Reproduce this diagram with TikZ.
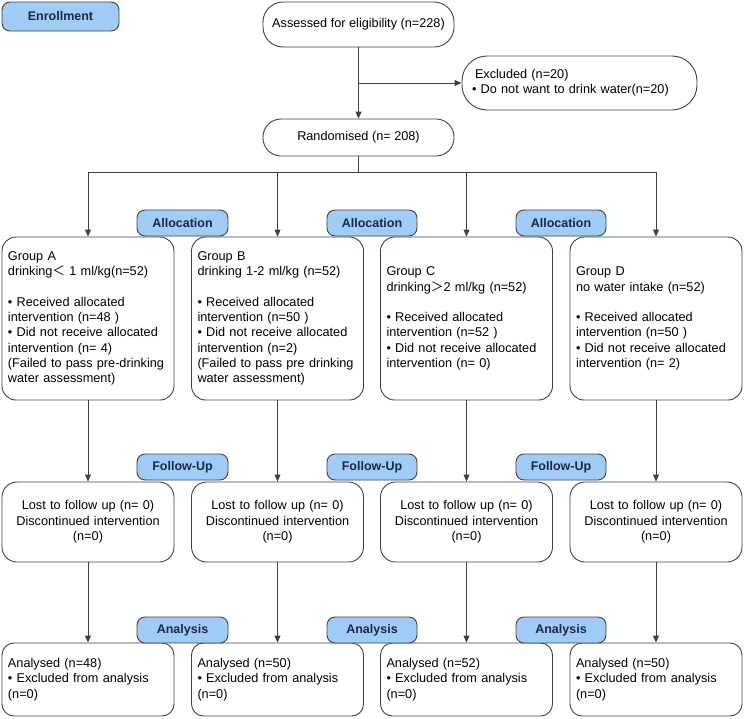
\documentclass[tikz,border=0pt]{standalone}
\usepackage{fontspec}
\setmainfont{Liberation Sans}
\newfontfamily\cjk{Noto Sans CJK SC}
\usetikzlibrary{arrows.meta}
\definecolor{lblue}{HTML}{A0CCF8}
\definecolor{navy}{HTML}{1B2845}
\begin{document}
\begin{tikzpicture}[x=1pt,y=-1pt,
  base/.style={draw=black!75, line width=0.9pt, inner ysep=0pt,
    font=\fontsize{12.7}{15.3}\selectfont},
  pill/.style={base, align=center, inner xsep=0pt},
  grp/.style={base, rounded corners=14pt, inner xsep=6pt, text width=160pt,
    minimum height=163pt, align=left},
  fup/.style={base, rounded corners=15pt, inner xsep=6pt, text width=160pt,
    minimum height=80pt, align=center},
  ana/.style={base, rounded corners=12pt, inner xsep=6pt, text width=160pt,
    minimum height=73pt, align=left},
  lbl/.style={draw=black!75, line width=0.9pt, fill=lblue, rounded corners=8pt,
    minimum width=90pt, minimum height=26pt, inner sep=0pt, text=navy,
    font=\fontsize{12.5}{14}\selectfont\bfseries},
  arr/.style={draw=black!75, line width=0.9pt, -{Triangle[length=7pt,width=6pt]}},
  ln/.style={draw=black!75, line width=0.9pt}
]
\useasboundingbox (0,0) rectangle (744,718);

% top
\node[lbl, minimum width=117pt, minimum height=29pt] (enroll) at (60.5,16.5) {Enrollment};
\node[pill, rounded corners=20pt, minimum width=191pt, minimum height=45pt] (assess) at (358.5,24.5) {Assessed for eligibility (n=228)};
\node[base, rounded corners=25pt, inner xsep=10pt, text width=215pt, minimum height=54pt, align=left] (excl) at (579.5,83) {\hspace{3pt}Excluded (n=20)\\• Do not want to drink water(n=20)};
\node[pill, rounded corners=18pt, minimum width=191pt, minimum height=37pt] (rand) at (358.5,137.5) {Randomised (n= 208)};

\coordinate (br) at (358.5,83);
\coordinate (bus) at (358.5,172);

% groups
\node[grp] (gA) at (88,318.5) {Group A\\drinking{\cjk ＜} 1 ml/kg(n=52)\\[15.3pt]• Received allocated\\intervention (n=48 )\\• Did not receive allocated\\intervention (n= 4)\\(Failed to pass pre-drinking\\water assessment)};
\node[grp] (gB) at (277.5,318.5) {Group B\\drinking 1-2 ml/kg (n=52)\\[15.3pt]• Received allocated\\intervention (n=50 )\\• Did not receive allocated\\intervention (n=2)\\(Failed to pass pre drinking\\water assessment)};
\node[grp] (gC) at (466.5,318.5) {Group C\\drinking{\cjk ＞}2 ml/kg (n=52)\\[15.3pt]• Received allocated\\intervention (n=52 )\\• Did not receive allocated\\intervention (n= 0)};
\node[grp] (gD) at (656,318.5) {Group D\\no water intake (n=52)\\[15.3pt]• Received allocated\\intervention (n=50 )\\• Did not receive allocated\\intervention (n= 2)};

% follow-up
\foreach \n/\x in {fA/88, fB/277.5, fC/466.5, fD/656}
  \node[fup] (\n) at (\x,522) {Lost to follow up (n= 0)\\Discontinued intervention\\(n=0)};

% analysis
\node[ana] (aA) at (88,679.5) {Analysed (n=48)\\• Excluded from analysis\\(n=0)};
\node[ana] (aB) at (277.5,679.5) {Analysed (n=50)\\• Excluded from analysis\\(n=0)};
\node[ana] (aC) at (466.5,679.5) {Analysed (n=52)\\• Excluded from analysis\\(n=0)};
\node[ana] (aD) at (656,679.5) {Analysed (n=50)\\• Excluded from analysis\\(n=0)};

% connectors
\draw[arr] (assess.south) -- (rand.north);
\draw[arr] (br) -- (excl.west);
\draw[ln] (rand.south) -- (bus);
\draw[ln] (bus -| gA.north) -- (bus -| gD.north);
\foreach \g in {gA,gB,gC,gD}
  \draw[arr] (bus -| \g.north) -- (\g.north);
\draw[arr] (gA.south) -- (fA.north);
\draw[arr] (gB.south) -- (fB.north);
\draw[arr] (gC.south) -- (fC.north);
\draw[arr] (gD.south) -- (fD.north);
\draw[arr] (fA.south) -- (aA.north);
\draw[arr] (fB.south) -- (aB.north);
\draw[arr] (fC.south) -- (aC.north);
\draw[arr] (fD.south) -- (aD.north);

% stage labels
\node[lbl, minimum width=91pt] (al1) at (182.5,223) {Allocation};
\node[lbl] (al2) at (372,223) {Allocation};
\node[lbl] (al3) at (561,223) {Allocation};
\node[lbl, minimum width=91pt] (fu1) at (182.5,467) {Follow-Up};
\node[lbl] (fu2) at (372,467) {Follow-Up};
\node[lbl] (fu3) at (561,467) {Follow-Up};
\node[lbl, minimum width=91pt] (an1) at (182.5,630) {Analysis};
\node[lbl] (an2) at (372,630) {Analysis};
\node[lbl] (an3) at (561,630) {Analysis};
\end{tikzpicture}
\end{document}
